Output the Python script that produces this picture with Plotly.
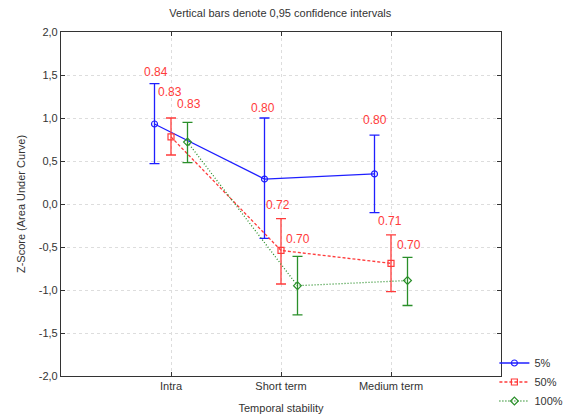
import plotly.graph_objects as go

categories = ["Intra", "Short term", "Medium term"]
series_names = ["5%", "50%", "100%"]

mean_5 = [0.93, 0.29, 0.35]
upper_5 = [1.40, 1.00, 0.80]
lower_5 = [0.47, -0.40, -0.10]

mean_50 = [0.78, -0.54, -0.69]
upper_50 = [1.00, -0.17, -0.36]
lower_50 = [0.57, -0.93, -1.02]

mean_100 = [0.72, -0.95, -0.89]
upper_100 = [0.95, -0.61, -0.62]
lower_100 = [0.48, -1.29, -1.18]

auc_5 = ["0.84", "0.80", "0.80"]
auc_50 = ["0.83", "0.72", "0.71"]
auc_100 = ["0.83", "0.70", "0.70"]

y_ticks = [2.0, 1.5, 1.0, 0.5, 0.0, -0.5, -1.0, -1.5, -2.0]
y_tick_labels = ["2,0", "1,5", "1,0", "0,5", "0,0", "-0,5", "-1,0", "-1,5", "-2,0"]

FONT = "Liberation Sans, Arial, sans-serif"
TXT = "#333333"

fig = go.Figure()

styles = [
    dict(color="#1f1fff", dash="solid", symbol="circle-open", size=6, off=-0.15,
         mean=mean_5, up=upper_5, lo=lower_5),
    dict(color="#ff3b3b", dash="3px,2px", symbol="square-open", size=6, off=0.0,
         mean=mean_50, up=upper_50, lo=lower_50),
    dict(color="#2a8f2a", dash="1px,2px", symbol="diamond-open", size=6, off=0.15,
         mean=mean_100, up=upper_100, lo=lower_100),
]

for name, s in zip(series_names, styles):
    xs = [i + 1 + s["off"] for i in range(len(categories))]
    fig.add_trace(go.Scatter(
        x=xs, y=s["mean"], name=name, mode="lines+markers",
        line=dict(color=s["color"], dash=s["dash"], width=1.3),
        marker=dict(symbol=s["symbol"], size=s["size"], color=s["color"],
                    line=dict(color=s["color"], width=1.2)),
        error_y=dict(type="data", symmetric=False,
                     array=[u - m for u, m in zip(s["up"], s["mean"])],
                     arrayminus=[m - l for m, l in zip(s["mean"], s["lo"])],
                     color=s["color"], thickness=1.3, width=5),
    ))

# AUC labels (red text)
label_pos = [
    (auc_5, [(0.86, 1.54), (1.84, 1.12), (2.85, 0.98)]),
    (auc_50, [(0.99, 1.30), (1.97, -0.01), (2.99, -0.20)]),
    (auc_100, [(1.16, 1.16), (2.15, -0.41), (3.16, -0.48)]),
]
for texts, positions in label_pos:
    for t, (x, y) in zip(texts, positions):
        fig.add_annotation(x=x, y=y, text=t, showarrow=False,
                           font=dict(color="#ff3b3b", size=12, family=FONT))

fig.update_layout(
    width=572, height=420,
    margin=dict(l=61, r=71, t=32, b=44, autoexpand=False),
    paper_bgcolor="white", plot_bgcolor="white",
    font=dict(family=FONT, size=11, color=TXT),
    title=dict(text="Vertical bars denote 0,95 confidence intervals",
               x=0.49, xanchor="center", y=0.968, yanchor="middle",
               font=dict(size=11, color=TXT)),
    showlegend=True,
    legend=dict(x=0.985, xanchor="left", y=0.08, yanchor="top",
                font=dict(size=11, color=TXT),
                bgcolor="rgba(0,0,0,0)", itemwidth=30,
                tracegroupgap=0),
    xaxis=dict(range=[0, 4], tickmode="array", tickvals=[1, 2, 3],
               ticktext=categories, showgrid=True, gridcolor="#dddddd",
               griddash="dot", gridwidth=1, zeroline=False,
               showline=True, linecolor=TXT, linewidth=1.2, mirror="ticks",
               ticks="inside", ticklen=4, tickcolor=TXT,
               title=dict(text="Temporal stability", standoff=13,
                          font=dict(size=11, color=TXT))),
    yaxis=dict(range=[-2, 2], tickmode="array", tickvals=y_ticks,
               ticktext=y_tick_labels, showgrid=True, gridcolor="#dddddd",
               griddash="dot", gridwidth=1, zeroline=False,
               showline=True, linecolor=TXT, linewidth=1.2, mirror="ticks",
               ticks="inside", ticklen=4, tickcolor=TXT,
               title=dict(text="Z-Score (Area Under Curve)", standoff=10,
                          font=dict(size=11, color=TXT))),
)

fig.write_html("out.html", config={"displayModeBar": False},
               post_script="document.body.style.margin='0';document.body.style.overflow='hidden';")
